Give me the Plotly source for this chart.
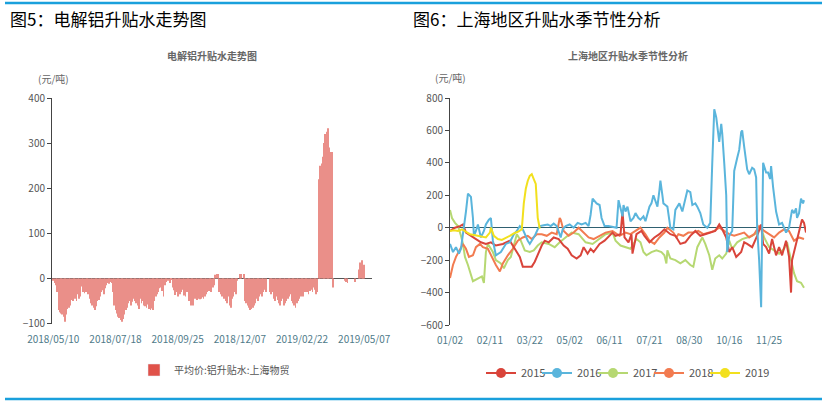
import plotly.graph_objects as go

W, H = 830, 403
FONT = "Noto Sans CJK SC"

# ---------------- left chart data ----------------
bar_ticktext = ["2018/05/10", "2018/07/18", "2018/09/25", "2018/12/07", "2019/02/22", "2019/05/07"]
bar_tickpos = [0, 48, 96, 144, 192, 240]
bar_values = [
    -5, -10, -15, -30, -70, -75, -78, -80, -85, -96,
    -80, -68, -65, -60, -48, -50, -40, -45, -50, -35,
    -45, -40, -18, -30, -33, -30, -20, -35, -45, -55,
    -60, -65, -70, -62, -50, -48, -40, -30, -26, -35,
    -22, -15, -10, -12, -8, -10, -30, -60, -70, -78,
    -85, -88, -92, -96, -90, -80, -70, -65, -55, -50,
    -60, -52, -45, -50, -55, -60, -68, -45, -55, -50,
    -60, -62, -65, -58, -68, -70, -67, -70, -50, -40,
    -35, -30, -22, -20, -28, -40, -15, -8, -5, -5,
    -10, -3, -20, -26, -37, -30, -40, -18, -35, -30,
    -25, -38, -40, -30, -20, -50, -60, -55, -60, -45,
    -45, -48, -45, -46, -45, -42, -45, -40, -35, -30,
    -28, -25, -30, -20, -15, 8, 10, 10, -30, -35,
    -40, -25, -45, -50, -55, -40, -60, -65, -45, -40,
    -30, -35, -5, 0, 10, 10, 0, 10, -50, -55,
    -60, -65, -70, -68, -65, -60, -55, -45, -50, -40,
    -35, -40, -30, -25, -30, 0, 0, -30, -35, -30,
    -45, -50, -40, -48, -55, -60, -50, -45, -60, -55,
    -50, -45, -40, -35, -50, -55, -60, -65, -55, -50,
    -45, -40, -35, -40, -30, -25, -30, -35, -28, -25,
    -30, -20, -25, -35, -30, 220, 250, 255, 270, 300,
    320, 325, 333, 290, 280, 280, -20, 0, 0, 0,
    0, 0, 0, 0, 0, -5, -8, -10, 0, 0,
    0, 0, 0, -8, 0, 0, 20, 35, 40, 25,
    30, 0,
]
bar_name = "平均价:铝升贴水:上海物贸"

# ---------------- right chart data ----------------
season_ticktext = ["01/02", "02/11", "03/22", "05/02", "06/11", "07/21", "08/30", "10/16", "11/25"]
season_tickpos = [0, 40, 80, 120, 160, 200, 240, 280, 320]

x2015 = [0, 5, 10, 13, 16, 21, 26, 31, 36, 41, 46, 53, 60, 64, 70, 73, 77, 82, 85, 89,
         92, 95, 99, 104, 109, 114, 118, 122, 127, 131, 134, 138, 141, 144, 150, 155, 160, 163, 166, 171,
         173, 175, 179, 182, 183, 187, 192, 195, 200, 205, 210, 215, 221, 226, 231, 236, 241, 246, 251, 256,
         261, 266, 270, 273, 277, 280, 283, 287, 292, 295, 298, 303, 308, 312, 314, 317, 320, 323, 327, 330,
         333, 337, 340, 342, 343, 347, 350, 353, 355, 357]
y2015 = [-20, 0, 10, 20, -30, -50, -70, -90, -100, -90, -110, -100, -80, -120, -180, -240, -240, -240, -210, -150,
         -110, -80, -90, -60, -70, -110, -130, -170, -190, -170, -120, -160, -130, -150, -100, -80, -50, -30, -50, -40,
         100, -60, -90, -40, -160, -40, -20, -50, -90, -60, -40, -10, -40, -50, -100, -90, -50, -20, -50, -40,
         -30, -20, 20, -10, -60, -150, -120, -180, -150, -90, -100, -120, -50, 20, -100, -120, -160, -70, -170, -120,
         -170, -80, -180, -400, -200, -100, -20, 50, 30, -30]

x2016 = [0, 3, 6, 9, 11, 13, 16, 18, 21, 23, 24, 26, 28, 31, 34, 36, 39, 41, 43, 46,
         49, 51, 54, 56, 60, 64, 67, 70, 73, 75, 78, 80, 83, 85, 88, 90, 94, 98, 101, 104,
         107, 109, 111, 113, 116, 120, 124, 128, 132, 136, 139, 141, 143, 147, 150, 152, 155, 159, 163, 167,
         169, 171, 173, 174, 176, 178, 181, 184, 186, 189, 191, 194, 196, 200, 202, 204, 206, 208, 210, 211,
         213, 214, 216, 218, 221, 224, 226, 228, 230, 233, 236, 238, 241, 243, 246, 248, 251, 254, 258, 261,
         263, 265, 267, 268, 270, 272, 273, 275, 277, 278, 280, 283, 285, 288, 290, 292, 293, 295, 297, 298,
         300, 303, 305, 307, 308, 310, 312, 313, 314, 317, 319, 321, 322, 324, 327, 330, 333, 337, 340, 343,
         345, 347, 348, 350, 352, 354, 355]
y2016 = [-100, -150, -120, -160, -130, -50, 100, 210, 190, 60, -50, -20, 20, -60, -20, 20, 50, 60, -80, -170,
         -160, -150, -120, -100, -90, -40, -20, 10, -10, -40, -80, -100, -70, -50, -10, 10, 15, 20, 10, 25,
         10, -30, -60, -10, 10, 20, 0, 30, 20, 30, 10, 80, 180, 150, 140, 60, 10, 10, 5, 0,
         170, 110, 70, 140, 100, 130, 40, 60, 90, 60, 50, 70, 40, 130, 150, 200, 170, 130, 230, 290,
         200, 150, 140, 130, 0, -10, 110, 130, 150, 100, 180, 230, 220, 140, 150, 130, 90, 20, 0, 30,
         400, 730, 680, 620, 530, 640, 580, 400, 200, -150, -50, -20, 350, 430, 480, 590, 600, 500, 380, 360,
         330, 370, 360, 310, 0, -200, -490, 0, 400, 340, 340, 300, 380, 250, 100, 20, 30, -30, 0, 110,
         90, 120, 60, 90, 180, 150, 170]

x2017 = [0, 2, 5, 8, 11, 13, 15, 18, 23, 26, 30, 32, 34, 36, 38, 43, 46, 51, 54, 58,
         61, 64, 67, 71, 75, 80, 84, 88, 92, 99, 105, 110, 116, 122, 129, 136, 143, 150, 156, 163,
         166, 171, 176, 181, 184, 187, 191, 194, 197, 202, 207, 212, 215, 217, 218, 221, 226, 231, 236, 241,
         244, 248, 253, 256, 260, 263, 266, 270, 273, 277, 280, 283, 288, 293, 298, 303, 308, 312, 315, 320,
         325, 330, 335, 338, 342, 345, 348, 352, 355]
y2017 = [110, 60, 30, 10, -50, -100, -180, -230, -330, -320, -310, -300, -340, -150, -100, -150, -200, -220, -250, -200,
         -180, -110, -40, -80, -140, -150, -140, -110, -90, -100, -120, -90, -60, -30, -40, -90, -100, -70, -40, -30,
         -80, -110, -120, -130, -100, -70, -90, -150, -170, -150, -140, -150, -170, -220, -140, -190, -200, -220, -200, -230,
         -240, -120, -60, -100, -170, -260, -190, -170, -190, -160, -80, -130, -90, -70, -60, -50, -30, 0, -60, -120,
         -140, -160, -130, -90, -200, -280, -330, -340, -370]

x2018 = [0, 3, 6, 10, 13, 16, 19, 23, 26, 30, 33, 38, 41, 46, 50, 53, 58, 63, 68, 73,
         78, 82, 87, 92, 97, 102, 107, 110, 111, 114, 119, 124, 129, 134, 139, 144, 150, 156, 163, 170,
         176, 181, 186, 191, 196, 200, 205, 210, 215, 218, 224, 227, 229, 234, 239, 244, 249, 254, 260, 265,
         270, 275, 280, 285, 290, 295, 300, 305, 310, 315, 320, 325, 330, 335, 340, 345, 350, 355]
y2018 = [-310, -230, -180, -130, -100, -130, -180, -170, -120, -100, -120, -130, -170, -230, -270, -220, -170, -130, -80, -60,
         -50, -70, -40, -40, -50, -30, -40, 60, 50, -20, -50, -30, 0, -30, -60, -70, -50, -30, -20, -50,
         -30, -40, -20, 0, -40, -80, -100, -60, -30, 0, -30, -60, -40, -50, -30, -30, -20, -40, -30, -20,
         0, -20, -40, -50, -40, -30, -60, -40, 10, -20, -40, -60, -30, -10, -20, -80, -60, -70]

x2019 = [0, 4, 8, 12, 16, 20, 24, 28, 32, 36, 40, 41, 44, 48, 52, 56, 60, 64, 68, 72,
         74, 76, 78, 80, 82, 84, 86, 88, 90]
y2019 = [-20, -15, -20, -10, -25, -40, -45, -50, -55, -60, -30, 0, -50, -70, -75, -65, -50, -35, -25, -10,
         150, 240, 290, 320, 330, 300, 270, 60, -5]

years = ["2015", "2016", "2017", "2018", "2019"]
colors = ["#d9443a", "#5ab5dc", "#b6d872", "#f27b50", "#f2e01e"]
xs = [x2015, x2016, x2017, x2018, x2019]
ys = [y2015, y2016, y2017, y2018, y2019]

fig = go.Figure()

# left bars
fig.add_trace(go.Bar(
    x=list(range(len(bar_values))), y=bar_values,
    marker=dict(color="#ea8f89", line=dict(width=0)),
    xaxis="x", yaxis="y", showlegend=False, hoverinfo="skip",
))
fig.add_trace(go.Bar(
    x=[None], y=[None], name=bar_name,
    marker=dict(color="#e0524a"), xaxis="x", yaxis="y", legend="legend",
))

# right lines
order = [2, 3, 0, 1, 4]
for i in order:
    fig.add_trace(go.Scatter(
        x=xs[i], y=ys[i], mode="lines", line=dict(color=colors[i], width=2),
        xaxis="x2", yaxis="y2", showlegend=False, hoverinfo="skip",
    ))
legend_ids = ["legend2", "legend3", "legend4", "legend5", "legend6"]
for i in range(5):
    fig.add_trace(go.Scatter(
        x=[None], y=[None], mode="lines+markers", name=years[i],
        line=dict(color=colors[i], width=2), marker=dict(color=colors[i], size=10),
        xaxis="x2", yaxis="y2", legend=legend_ids[i],
    ))

ydom = [1 - 323.5 / H, 1 - 98 / H]
ydom2 = [1 - 325 / H, 1 - 98 / H]

axis_common = dict(showgrid=False, fixedrange=True, automargin=False)
fig.update_layout(
    width=W, height=H, margin=dict(l=0, r=0, t=0, b=0, autoexpand=False),
    paper_bgcolor="white", plot_bgcolor="white",
    font=dict(family=FONT, size=10, color="#555"),
    bargap=0.4,
    xaxis=dict(domain=[52 / W, 372 / W], anchor="y", range=[-1, 246],
               tickmode="array", tickvals=bar_tickpos, ticktext=bar_ticktext,
               tickfont=dict(size=10, color="#4f7b8a"), showline=False, zeroline=False,
               ticks="", ticklabelstandoff=8, **axis_common),
    yaxis=dict(domain=ydom, anchor="x", range=[-100, 400], dtick=100,
               showline=True, linecolor="#444", linewidth=1, ticks="outside", ticklen=4,
               tickcolor="#444", tickfont=dict(size=10, color="#555"),
               zeroline=True, zerolinecolor="#555", zerolinewidth=1, **axis_common),
    xaxis2=dict(domain=[450 / W, 806 / W], anchor="y2", range=[0, 357],
                tickmode="array", tickvals=season_tickpos, ticktext=season_ticktext,
                tickfont=dict(size=10, color="#4f7b8a"), showline=False, zeroline=False,
                ticks="", ticklabelstandoff=8, **axis_common),
    yaxis2=dict(domain=ydom2, anchor="x2", range=[-600, 800], dtick=200,
                showline=True, linecolor="#444", linewidth=1, ticks="outside", ticklen=4,
                tickcolor="#444", tickfont=dict(size=10, color="#555"),
                zeroline=True, zerolinecolor="#2f6070", zerolinewidth=1, **axis_common),
    legend=dict(orientation="h", x=134 / W, y=1 - 370 / H, xanchor="left", yanchor="middle",
                font=dict(size=10, color="#555"), bgcolor="rgba(0,0,0,0)"),
)
for k, lid in enumerate(legend_ids):
    fig.update_layout({lid: dict(orientation="h", x=(481 + 56 * k) / W, y=1 - 373 / H,
                                 xanchor="left", yanchor="middle", itemwidth=30,
                                 font=dict(size=11, color="#555"), bgcolor="rgba(0,0,0,0)")})

# framing lines
fig.add_shape(type="line", xref="paper", yref="paper", x0=5 / W, x1=822 / W,
              y0=1 - 3 / H, y1=1 - 3 / H, line=dict(color="#1aa0dc", width=2.5))
fig.add_shape(type="line", xref="paper", yref="paper", x0=5 / W, x1=822 / W,
              y0=1 - 399 / H, y1=1 - 399 / H, line=dict(color="#1aa0dc", width=2.5))

annos = [
    dict(text="图5：电解铝升贴水走势图", x=8 / W, y=1 - 18.5 / H, xanchor="left", size=17, color="#000"),
    dict(text="图6：上海地区升贴水季节性分析", x=411 / W, y=1 - 18.5 / H, xanchor="left", size=17, color="#000"),
    dict(text="<b>电解铝升贴水走势图</b>", x=212 / W, y=1 - 55 / H, xanchor="center", size=10, color="#666"),
    dict(text="<b>上海地区升贴水季节性分析</b>", x=628 / W, y=1 - 55 / H, xanchor="center", size=10, color="#666"),
    dict(text="(元/吨)", x=53 / W, y=1 - 78 / H, xanchor="center", size=10, color="#666"),
    dict(text="(元/吨)", x=450 / W, y=1 - 77 / H, xanchor="center", size=10, color="#666"),
]
for a in annos:
    fig.add_annotation(text=a["text"], x=a["x"], y=a["y"], xref="paper", yref="paper",
                       xanchor=a["xanchor"], yanchor="middle", showarrow=False,
                       font=dict(family=FONT, size=a["size"], color=a["color"]))

fig.write_html("out.html")
